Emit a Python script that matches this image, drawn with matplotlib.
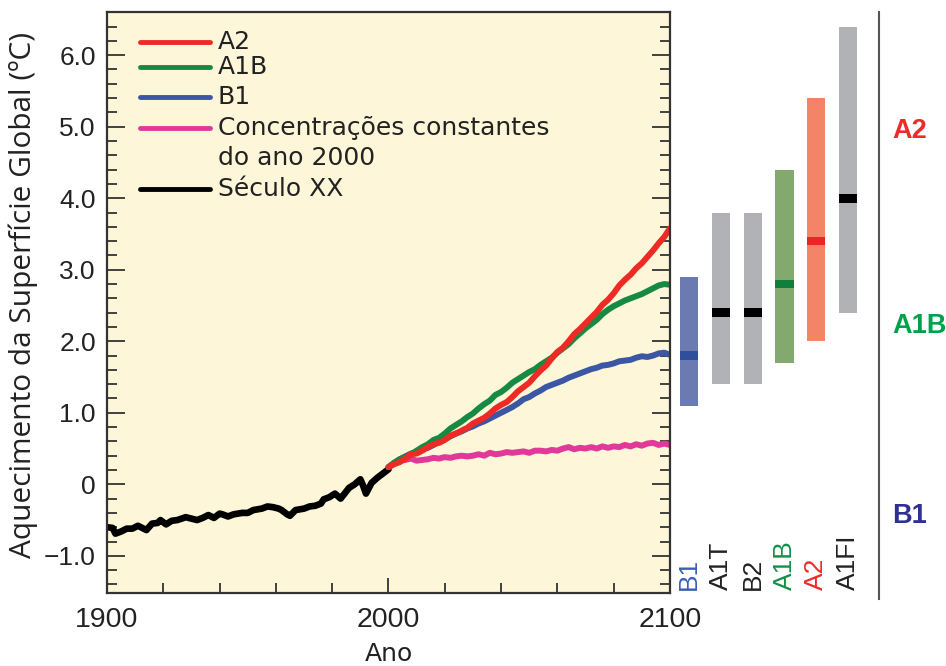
import numpy as np
import matplotlib.pyplot as plt
from matplotlib.ticker import MultipleLocator, FixedLocator

# Século XX (observado)
anos_hist = [1900, 1902, 1903, 1905, 1907, 1909, 1911, 1913, 1914, 1916, 1918, 1919, 1921,
             1923, 1925, 1928, 1930, 1932, 1934, 1936, 1938, 1940, 1941, 1943, 1945, 1948,
             1950, 1952, 1955, 1957, 1959, 1961, 1962, 1964, 1965, 1967, 1970, 1972, 1974,
             1976, 1977, 1979, 1981, 1983, 1984, 1986, 1988, 1990, 1991, 1992, 1994, 1996,
             1998, 2000]
temp_hist = [-0.60, -0.61, -0.69, -0.66, -0.62, -0.62, -0.58, -0.62, -0.64, -0.55, -0.54,
             -0.50, -0.56, -0.51, -0.50, -0.46, -0.48, -0.50, -0.47, -0.43, -0.47, -0.41,
             -0.42, -0.45, -0.42, -0.40, -0.40, -0.36, -0.34, -0.31, -0.32, -0.34, -0.36,
             -0.42, -0.44, -0.36, -0.34, -0.31, -0.30, -0.27, -0.21, -0.18, -0.13, -0.20,
             -0.15, -0.05, 0.00, 0.07, -0.02, -0.13, 0.02, 0.09, 0.15, 0.21]

# Projeções 2000-2100 (a cada 2 anos)
anos_proj = list(range(2000, 2101, 2))
temp_a2 = [0.24, 0.28, 0.31, 0.36, 0.42, 0.43, 0.47, 0.52, 0.56, 0.58, 0.62, 0.68, 0.71,
           0.75, 0.79, 0.85, 0.89, 0.93, 0.99, 1.06, 1.11, 1.15, 1.22, 1.30, 1.36, 1.42,
           1.51, 1.59, 1.66, 1.76, 1.85, 1.91, 2.00, 2.10, 2.17, 2.25, 2.33, 2.41, 2.51,
           2.58, 2.67, 2.78, 2.86, 2.93, 3.02, 3.09, 3.18, 3.27, 3.37, 3.46, 3.58]
temp_a1b = [0.24, 0.30, 0.35, 0.38, 0.42, 0.47, 0.52, 0.56, 0.62, 0.65, 0.71, 0.78, 0.83,
            0.88, 0.94, 0.99, 1.06, 1.12, 1.17, 1.25, 1.29, 1.35, 1.42, 1.47, 1.52, 1.57,
            1.61, 1.67, 1.72, 1.77, 1.84, 1.90, 1.96, 2.04, 2.11, 2.18, 2.24, 2.30, 2.38,
            2.44, 2.49, 2.53, 2.57, 2.60, 2.63, 2.66, 2.70, 2.74, 2.78, 2.80, 2.79]
temp_b1 = [0.24, 0.30, 0.35, 0.39, 0.43, 0.45, 0.49, 0.51, 0.55, 0.60, 0.63, 0.67, 0.71,
           0.74, 0.78, 0.81, 0.85, 0.88, 0.92, 0.96, 1.00, 1.04, 1.08, 1.13, 1.19, 1.22,
           1.27, 1.31, 1.36, 1.39, 1.42, 1.45, 1.49, 1.52, 1.55, 1.58, 1.61, 1.63, 1.66,
           1.67, 1.69, 1.72, 1.73, 1.74, 1.77, 1.79, 1.78, 1.80, 1.83, 1.84, 1.81]
temp_const = [0.24, 0.29, 0.33, 0.34, 0.36, 0.33, 0.34, 0.35, 0.37, 0.36, 0.38, 0.37, 0.39,
              0.40, 0.39, 0.40, 0.42, 0.40, 0.44, 0.42, 0.43, 0.45, 0.44, 0.45, 0.46, 0.44,
              0.47, 0.47, 0.46, 0.48, 0.47, 0.50, 0.52, 0.49, 0.51, 0.50, 0.52, 0.50, 0.53,
              0.51, 0.53, 0.52, 0.55, 0.53, 0.56, 0.54, 0.57, 0.58, 0.55, 0.57, 0.55]

# Faixas prováveis em 2100 por cenário
cenarios = ['B1', 'A1T', 'B2', 'A1B', 'A2', 'A1FI']
faixa_min = [1.1, 1.4, 1.4, 1.7, 2.0, 2.4]
faixa_max = [2.9, 3.8, 3.8, 4.4, 5.4, 6.4]
melhor = [1.8, 2.4, 2.4, 2.8, 3.4, 4.0]

cor_barra = ['#6b7bb2', '#b1b2b6', '#b1b2b6', '#83a96f', '#f48468', '#b1b2b6']
cor_melhor = ['#2d4f9c', '#000000', '#000000', '#0f7f3b', '#ec2327', '#000000']
cor_rotulo = ['#3a5fb5', '#222222', '#222222', '#119146', '#ee2a2a', '#222222']

# Legenda e cores das curvas
nomes = ['A2', 'A1B', 'B1', 'Concentrações constantes', 'Século XX']
cores = ['#ee2a24', '#168a42', '#3a56a5', '#e0399a', '#000000']

fig = plt.figure(figsize=(9.46, 6.66), dpi=100)
ax = fig.add_axes([0.1131, 0.1096, 0.5951, 0.872])
ax.set_facecolor('#fdf6d8')

lw = 4.3
ax.plot(anos_hist, temp_hist, color=cores[4], lw=lw + 0.5, solid_capstyle='round')
ax.plot(anos_proj, temp_const, color=cores[3], lw=lw, solid_capstyle='round')
ax.plot(anos_proj, temp_b1, color=cores[2], lw=lw, solid_capstyle='round')
ax.plot(anos_proj, temp_a1b, color=cores[1], lw=lw, solid_capstyle='round')
ax.plot(anos_proj, temp_a2, color=cores[0], lw=lw, solid_capstyle='round')

ax.set_xlim(1900, 2100)
ax.set_ylim(-1.52, 6.6)

ax.xaxis.set_major_locator(FixedLocator([1900, 2000, 2100]))
ax.xaxis.set_minor_locator(MultipleLocator(20))
ax.yaxis.set_major_locator(FixedLocator([-1, 0, 1, 2, 3, 4, 5, 6]))
ax.yaxis.set_minor_locator(MultipleLocator(0.2))
ax.set_yticklabels(['\u22121.0', '0', '1.0', '2.0', '3.0', '4.0', '5.0', '6.0'])

for s in ax.spines.values():
    s.set_color('#333333')
    s.set_linewidth(1.6)

ax.tick_params(axis='y', which='both', direction='in', left=True, right=True,
               color='#333333', width=1.3, labelsize=19, pad=8)
ax.tick_params(axis='y', which='major', length=13)
ax.tick_params(axis='y', which='minor', length=7)
ax.tick_params(axis='x', which='both', direction='in', bottom=True, top=False,
               color='#333333', width=1.3, labelsize=20.5, pad=10)
ax.tick_params(axis='x', which='major', length=11)
ax.tick_params(axis='x', which='minor', length=7)
for lab in ax.get_xticklabels() + ax.get_yticklabels():
    lab.set_fontfamily('Liberation Sans')
    lab.set_color('#222222')

ax.set_xlabel('Ano', fontsize=18, color='#222222')
ax.set_ylabel('Aquecimento da Superfície Global (ºC)', fontsize=21.5, color='#222222',
              family='Open Sans')
ax.xaxis.set_label_coords(0.5, -0.085)
ax.yaxis.set_label_coords(-0.1226, 0.513)

# Legenda desenhada à mão
leg_y = [0.948, 0.905, 0.854, 0.800, 0.695]
for nome, cor, yy in zip(nomes, cores, leg_y):
    ax.plot([0.0586, 0.183], [yy, yy], color=cor, lw=3.5, transform=ax.transAxes,
            solid_capstyle='round')
    ax.text(0.197, yy, nome, transform=ax.transAxes, fontsize=18, va='center',
            color='#222222')
ax.text(0.197, 0.749, 'do ano 2000', transform=ax.transAxes, fontsize=18, va='center',
        color='#222222')

# Painel das barras à direita
ax2 = fig.add_axes([670 / 946, 0.1096, 276 / 946, 0.872])
ax2.set_xlim(-0.6, 8.08)
ax2.set_ylim(-1.52, 6.6)
ax2.axis('off')

x = np.arange(len(cenarios))
alturas = np.array(faixa_max) - np.array(faixa_min)
ax2.bar(x, alturas, bottom=faixa_min, width=0.57, color=cor_barra)
ax2.bar(x, 0.12, bottom=np.array(melhor) - 0.06, width=0.57, color=cor_melhor)

for xi, nome, cor in zip(x, cenarios, cor_rotulo):
    ax2.text(xi, -1.48, nome, rotation=90, ha='center', va='bottom', fontsize=19,
             color=cor, family='Liberation Sans')

ax2.axvline(5.975, ymin=-0.01, ymax=1.0, color='#555555', lw=1.5, clip_on=False)

ax2.text(6.4, 4.94, 'A2', fontsize=19.5, fontweight='bold', color='#ee2a2a',
         family='Liberation Sans', va='center', ha='left')
ax2.text(6.4, 2.22, 'A1B', fontsize=19.5, fontweight='bold', color='#00a14b',
         family='Liberation Sans', va='center', ha='left')
ax2.text(6.4, -0.45, 'B1', fontsize=19.5, fontweight='bold', color='#2e3192',
         family='Liberation Sans', va='center', ha='left')

fig.savefig('out.png', dpi=100, facecolor='white')
